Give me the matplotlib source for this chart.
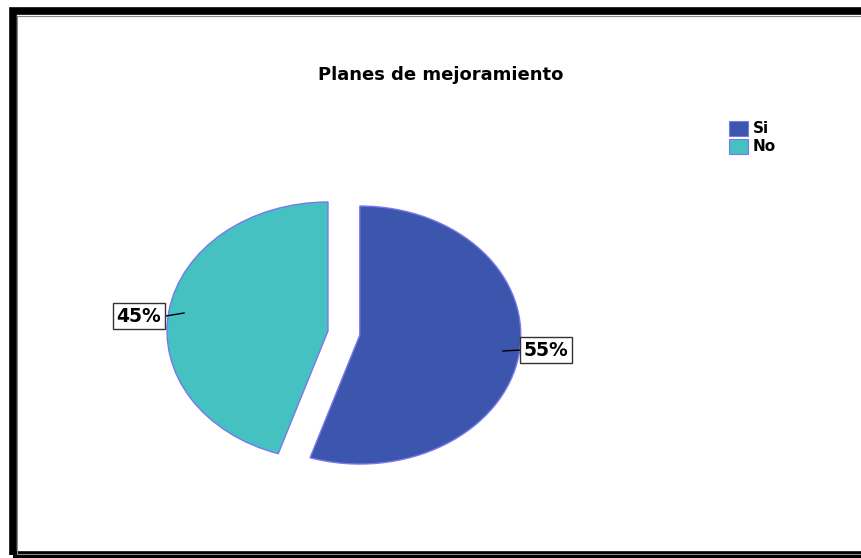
import matplotlib
matplotlib.use("Agg")
import matplotlib.pyplot as plt
from matplotlib.patches import Rectangle
import numpy as np

plt.rcParams['font.family'] = ['DejaVu Sans']

categorias = ["Si", "No"]
porcentajes = [55, 45]
colores = ["#3d56ad", "#46c1c1"]
titulo = "Planes de mejoramiento"

W, H = 861, 558
fig = plt.figure(figsize=(W / 100, H / 100), dpi=100)

# pie center (pixels, top origin) and radii -> elliptical pie
cx, cy = 328, 331
rx, ry = 161, 129
ax = fig.add_axes([0, 0, 1, 1])
wedges, _ = ax.pie(porcentajes, colors=colores, startangle=90, counterclock=False,
                   explode=[0.2, 0], wedgeprops=dict(edgecolor="#7878ee", linewidth=1))
ax.set_aspect('auto')
ax.set_xlim(-cx / rx, (W - cx) / rx)
ax.set_ylim((cy - H) / ry, cy / ry)
ax.axis('off')

# percentage labels with leader lines
def px(x, y):
    return (x - cx) / rx, (cy - y) / ry

etiquetas = [(porcentajes[0], (546, 350), (503, 351), (521, 350)),
             (porcentajes[1], (139, 316), (184, 313), (166, 316))]
for val, pos, p0, p1 in etiquetas:
    x0, y0 = px(*p0)
    x1, y1 = px(*p1)
    ax.plot([x0, x1], [y0, y1], color="black", lw=1)
    tx, ty = px(*pos)
    ax.text(tx, ty, f"{val}%", ha="center", va="center", fontsize=13.5, fontweight="bold",
            bbox=dict(boxstyle="square,pad=0.2", fc="white", ec="#333333", lw=1))

fig.text(441 / W, 1 - 75 / H, titulo, ha="center", va="center", fontsize=13, fontweight="bold")

# legend
for i, (cat, col) in enumerate(zip(categorias, colores)):
    y = 121 + i * 18
    fig.patches.append(Rectangle((729 / W, 1 - (y + 15) / H), 19 / W, 15 / H,
                                 transform=fig.transFigure, fc=col, ec="#7878ee", lw=0.8))
    fig.text(753 / W, 1 - (y + 7.5) / H, cat, ha="left", va="center", fontsize=11, fontweight="bold")

# outer frame
fig.patches.append(Rectangle((12.5 / W, 3.5 / H), (W + 20) / W, (H - 14) / H,
                             transform=fig.transFigure, fill=False, ec="black", lw=5.5))
fig.patches.append(Rectangle((16.5 / W, 4 / H), (W + 20) / W, (H - 19.5) / H,
                             transform=fig.transFigure, fill=False, ec="#888888", lw=0.8))

fig.savefig("out.png", dpi=100)
